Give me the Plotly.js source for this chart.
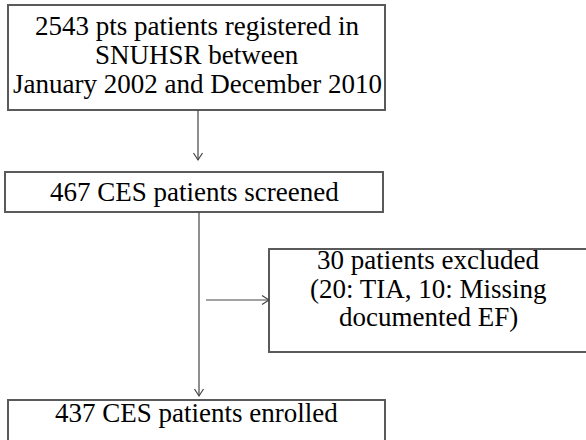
<!DOCTYPE html>
<html>
<head>
<meta charset="utf-8">
<script src="https://cdn.plot.ly/plotly-3.0.1.min.js"></script>
<style>html,body{margin:0;padding:0;background:#fff;}#chart{width:586px;height:440px;}</style>
</head>
<body>
<div id="chart"></div>
<script>
// Flowchart content
var boxIds = ["registered", "screened", "excluded", "enrolled"];
var boxLines = [
  ["2543 pts patients registered in", "SNUHSR between", "January 2002 and December 2010"],
  ["467 CES patients screened"],
  ["30 patients excluded", "(20: TIA, 10: Missing", "documented EF)"],
  ["437 CES patients enrolled"]
];
var flowFrom = ["registered", "screened", "screened"];
var flowTo   = ["screened", "enrolled", "excluded"];

// Layout geometry (pixel space)
var boxGeom = {
  registered: {x0: 8,   x1: 385, y0: 5,   y1: 110, cx: 197, cy: 55,  lh: 28.6},
  screened:   {x0: 5,   x1: 383, y0: 172, y1: 212, cx: 194, cy: 192, lh: 28.6},
  excluded:   {x0: 269, x1: 600, y0: 249, y1: 352, cx: 428, cy: 288.5, lh: 28.6},
  enrolled:   {x0: 8,   x1: 385, y0: 400, y1: 446, cx: 196, cy: 413, lh: 28.6}
};
var arrowGeom = [
  {x0: 198, y0: 110, x1: 198, y1: 160},
  {x0: 199, y0: 212, x1: 199, y1: 396},
  {x0: 206, y0: 300, x1: 269, y1: 300}
];

var shapes = [];
var annotations = [];
boxIds.forEach(function (id, i) {
  var g = boxGeom[id];
  shapes.push({type: "rect", xref: "x", yref: "y", x0: g.x0, x1: g.x1, y0: g.y0, y1: g.y1,
    line: {color: "#5a5a5a", width: 2}, fillcolor: "rgba(0,0,0,0)"});
  var n = boxLines[i].length;
  boxLines[i].forEach(function (t, k) {
    annotations.push({xref: "x", yref: "y", x: g.cx, y: g.cy + (k - (n - 1) / 2) * g.lh,
      text: t, showarrow: false, xanchor: "center", yanchor: "middle",
      font: {family: "Liberation Serif, Times New Roman, serif", size: 27, color: "#000"}});
  });
});
flowFrom.forEach(function (f, i) {
  var a = arrowGeom[i];
  shapes.push({type: "line", xref: "x", yref: "y", x0: a.x0, y0: a.y0, x1: a.x1, y1: a.y1,
    line: {color: "#444", width: 1.2}});
  var dx = a.x1 - a.x0, dy = a.y1 - a.y0, L = Math.sqrt(dx * dx + dy * dy);
  var ux = dx / L, uy = dy / L, px = -uy, py = ux, h = 7, w = 4.5;
  var p = "M" + (a.x1 - ux * h + px * w) + "," + (a.y1 - uy * h + py * w) +
          " L" + a.x1 + "," + a.y1 +
          " L" + (a.x1 - ux * h - px * w) + "," + (a.y1 - uy * h - py * w);
  shapes.push({type: "path", xref: "x", yref: "y", path: p, line: {color: "#444", width: 1.2}});
});

var layout = {
  width: 586, height: 440,
  margin: {l: 0, r: 0, t: 0, b: 0},
  paper_bgcolor: "#fff", plot_bgcolor: "#fff",
  xaxis: {range: [0, 586], visible: false, fixedrange: true},
  yaxis: {range: [440, 0], visible: false, fixedrange: true},
  shapes: shapes, annotations: annotations, showlegend: false
};
Plotly.newPlot("chart", [{x: [], y: [], type: "scatter", mode: "markers", hoverinfo: "skip"}], layout, {staticPlot: true, displayModeBar: false});
</script>
</body>
</html>
